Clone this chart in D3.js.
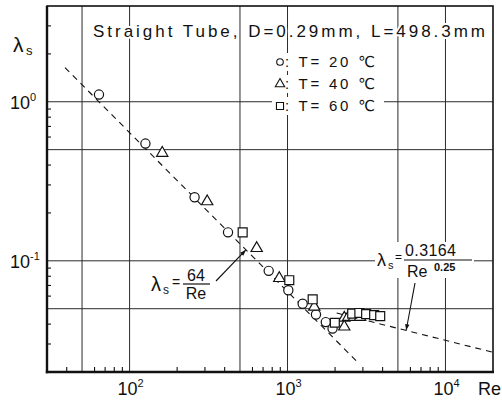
<!DOCTYPE html>
<html><head><meta charset="utf-8">
<script src="https://cdn.jsdelivr.net/npm/d3@7"></script>
<style>
body{margin:0;background:#fff}
svg{display:block}
text{font-family:"Liberation Sans","DejaVu Sans",sans-serif;fill:#111}
.halo{paint-order:stroke;stroke:#fff;stroke-width:4px;stroke-linejoin:round}
</style>
</head><body>
<svg id="c" width="502" height="401"></svg>
<script>
// ---- data ----
const circleRe  = [64, 126, 258, 420, 760, 1012, 1247, 1514, 1747, 1928];
const circleLam = [1.11, 0.546, 0.251, 0.151, 0.0865, 0.0653, 0.0537, 0.046, 0.0412, 0.0375];
const triRe  = [161, 310, 638, 887, 1477, 2287, 2287, 2425, 2640, 2880];
const triLam = [0.476, 0.236, 0.120, 0.0777, 0.0513, 0.0438, 0.0385, 0.0443, 0.0443, 0.0443];
const sqRe  = [520, 1026, 1443, 1993, 2568, 2850, 3146, 3536, 3863];
const sqLam = [0.151, 0.0755, 0.0573, 0.0408, 0.0466, 0.0470, 0.0462, 0.0456, 0.0449];
// theoretical lines (end points)
const laminarRe  = [39, 2760];
const laminarLam = [1.64, 0.0232];
const blasiusRe  = [2047, 19700];
const blasiusLam = [0.0470, 0.0267];
// axes
const xDomain = [30, 20000];
const yDomain = [0.02, 4];
const xGrid = [50, 100, 500, 1000, 5000, 10000];
const yGrid = [0.05, 0.1, 0.5, 1];
const xTickLabels = [{v:100, e:"2"}, {v:1000, e:"3"}, {v:10000, e:"4"}];
const yTickLabels = [{v:1, e:"0"}, {v:0.1, e:"-1"}];
const titleText = "Straight Tube, D=0.29mm, L=498.3mm";
const legendItems = [{sym:"circle", label:": T= 20 \u2103"}, {sym:"triangle", label:": T= 40 \u2103"}, {sym:"square", label:": T= 60 \u2103"}];
// annotation anchor points on the lines
const annoLaminar = {re: 545, lam: 0.117};
const annoBlasius = {re: 5640, lam: 0.0366};

// ---- drawing ----
const svg = d3.select("#c");
const L = 47, R = 493, T = 6, B = 372;
const x = d3.scaleLog().domain(xDomain).range([L, R]);
const y = d3.scaleLog().domain(yDomain).range([B, T]);

svg.append("rect").attr("width",502).attr("height",401).attr("fill","#fff");

// grid
const g = svg.append("g").attr("stroke","#2a2a2a").attr("stroke-width",1);
g.selectAll(".vg").data(xGrid).join("line")
  .attr("x1", d=>x(d)).attr("x2", d=>x(d)).attr("y1", T).attr("y2", B);
g.selectAll(".hg").data(yGrid).join("line")
  .attr("y1", d=>y(d)).attr("y2", d=>y(d)).attr("x1", L).attr("x2", R);

// minor ticks
const isGrid = (arr, v) => arr.some(a => Math.abs(Math.log10(a) - Math.log10(v)) < 1e-6);
const xMinor = x.ticks().filter(v => !isGrid(xGrid, v) && v > xDomain[0] && v < xDomain[1]);
const yMinor = y.ticks().filter(v => !isGrid(yGrid, v) && v > yDomain[0] && v < yDomain[1]);
const tk = svg.append("g").attr("stroke","#111").attr("stroke-width",1.1);
tk.selectAll(".xt").data(xMinor).join("line")
  .attr("x1", d=>x(d)).attr("x2", d=>x(d)).attr("y1", B).attr("y2", B-5);
tk.selectAll(".yt").data(yMinor).join("line")
  .attr("y1", d=>y(d)).attr("y2", d=>y(d)).attr("x1", L).attr("x2", L+4);

// theory lines
const line = d3.line().x(d=>x(d[0])).y(d=>y(d[1]));
svg.append("path").datum(d3.zip(laminarRe, laminarLam)).attr("d", line)
  .attr("fill","none").attr("stroke","#111").attr("stroke-width",1.1).attr("stroke-dasharray","6,5");
svg.append("path").datum(d3.zip(blasiusRe, blasiusLam)).attr("d", line)
  .attr("fill","none").attr("stroke","#111").attr("stroke-width",1.1).attr("stroke-dasharray","6,5");

// title
svg.append("text").attr("class","halo").attr("x",93).attr("y",37)
  .attr("font-size",17).attr("textLength",392).attr("lengthAdjust","spacing")
  .text(titleText);

// legend
const legRows = [62, 84, 106];
const lg = svg.append("g");
legendItems.forEach((it, i) => {
  const cy = legRows[i];
  lg.append("rect").attr("x",272).attr("y",cy-9).attr("width",112).attr("height",18).attr("fill","#fff");
  const sym = it.sym === "circle" ? d3.symbolCircle : it.sym === "triangle" ? d3.symbolTriangle : d3.symbolSquare;
  const size = it.sym === "circle" ? 34 : it.sym === "triangle" ? 38 : 50;
  lg.append("path").attr("d", d3.symbol(sym, size)()).attr("transform",`translate(280,${cy})`)
    .attr("fill","#fff").attr("stroke","#111").attr("stroke-width",1.1);
  lg.append("text").attr("x",285).attr("y",cy+5).attr("font-size",15)
    .attr("textLength",90).attr("lengthAdjust","spacing").text(it.label);
});

// data markers
const mk = svg.append("g").attr("fill","#fff").attr("stroke","#111").attr("stroke-width",1.2);
mk.selectAll(".c").data(d3.zip(circleRe, circleLam)).join("circle")
  .attr("cx", d=>x(d[0])).attr("cy", d=>y(d[1])).attr("r",4.6);
mk.selectAll(".t").data(d3.zip(triRe, triLam)).join("path")
  .attr("d", d3.symbol(d3.symbolTriangle, 55)())
  .attr("transform", d=>`translate(${x(d[0])},${y(d[1])})`);
mk.selectAll(".s").data(d3.zip(sqRe, sqLam)).join("path")
  .attr("d", d3.symbol(d3.symbolSquare, 80)())
  .attr("transform", d=>`translate(${x(d[0])},${y(d[1])})`);

// annotations
function arrow(x1,y1,x2,y2){
  svg.append("line").attr("x1",x1).attr("y1",y1).attr("x2",x2).attr("y2",y2)
    .attr("stroke","#111").attr("stroke-width",1.1);
  const a = Math.atan2(y2-y1, x2-x1), l = 6, w = 2.2;
  const p = [[x2,y2],[x2-l*Math.cos(a)+w*Math.sin(a), y2-l*Math.sin(a)-w*Math.cos(a)],
             [x2-l*Math.cos(a)-w*Math.sin(a), y2-l*Math.sin(a)+w*Math.cos(a)]];
  svg.append("path").attr("d","M"+p.join("L")+"Z").attr("fill","#111");
}
// lambda_s = 64/Re
const a1 = svg.append("g");
a1.append("rect").attr("x",148).attr("y",266).attr("width",66).attr("height",35).attr("fill","#fff");
a1.append("text").attr("x",151).attr("y",291).attr("font-size",20).text("\u03bb");
a1.append("text").attr("x",163).attr("y",294).attr("font-size",12).text("s");
a1.append("text").attr("x",172).attr("y",287).attr("font-size",14).text("=");
a1.append("text").attr("x",196).attr("y",281).attr("font-size",16).attr("text-anchor","middle").text("64");
a1.append("line").attr("x1",183).attr("x2",210).attr("y1",284).attr("y2",284).attr("stroke","#111").attr("stroke-width",1.2);
a1.append("text").attr("x",196).attr("y",299).attr("font-size",16).attr("text-anchor","middle").text("Re");
arrow(216, 281, x(annoLaminar.re), y(annoLaminar.lam));

// lambda_s = 0.3164/Re^0.25
const a2 = svg.append("g");
a2.append("rect").attr("x",375).attr("y",242).attr("width",99).attr("height",36).attr("fill","#fff");
a2.append("text").attr("x",377).attr("y",266).attr("font-size",18).text("\u03bb");
a2.append("text").attr("x",388).attr("y",269).attr("font-size",11).text("s");
a2.append("text").attr("x",395).attr("y",261).attr("font-size",12).text("=");
a2.append("text").attr("x",405).attr("y",256).attr("font-size",16).attr("textLength",51).attr("lengthAdjust","spacing").text("0.3164");
a2.append("line").attr("x1",404).attr("x2",472).attr("y1",260).attr("y2",260).attr("stroke","#111").attr("stroke-width",1.2);
a2.append("text").attr("x",407).attr("y",277).attr("font-size",16).text("Re");
a2.append("text").attr("x",434).attr("y",271).attr("font-size",11).attr("font-weight","bold").text("0.25");
arrow(415, 283, x(annoBlasius.re), y(annoBlasius.lam));

// frame
svg.append("rect").attr("x",L).attr("y",T).attr("width",R-L).attr("height",B-T)
  .attr("fill","none").attr("stroke","#111").attr("stroke-width",1.6);
svg.append("line").attr("x1",L).attr("x2",L).attr("y1",T).attr("y2",B+1.2).attr("stroke","#111").attr("stroke-width",2.4);
svg.append("line").attr("x1",L-1.2).attr("x2",R+1).attr("y1",B).attr("y2",B).attr("stroke","#111").attr("stroke-width",2.6);

// tick labels
xTickLabels.forEach(t => {
  const tx = svg.append("text").attr("x", x(t.v)+1).attr("y",395).attr("font-size",18).attr("text-anchor","middle");
  tx.append("tspan").text("10");
  tx.append("tspan").attr("dy",-8).attr("font-size",11).text(t.e);
});
yTickLabels.forEach(t => {
  const ty = svg.append("text").attr("x", 10).attr("y", y(t.v)+7).attr("font-size",18);
  ty.append("tspan").text("10");
  ty.append("tspan").attr("dy",-8).attr("font-size",11).text(t.e);
});
svg.append("text").attr("x",478).attr("y",395).attr("font-size",18).text("Re");
// y axis label
svg.append("text").attr("x",13).attr("y",52).attr("font-size",21).text("\u03bb");
svg.append("text").attr("x",26).attr("y",55).attr("font-size",13).text("s");
</script>
</body></html>
